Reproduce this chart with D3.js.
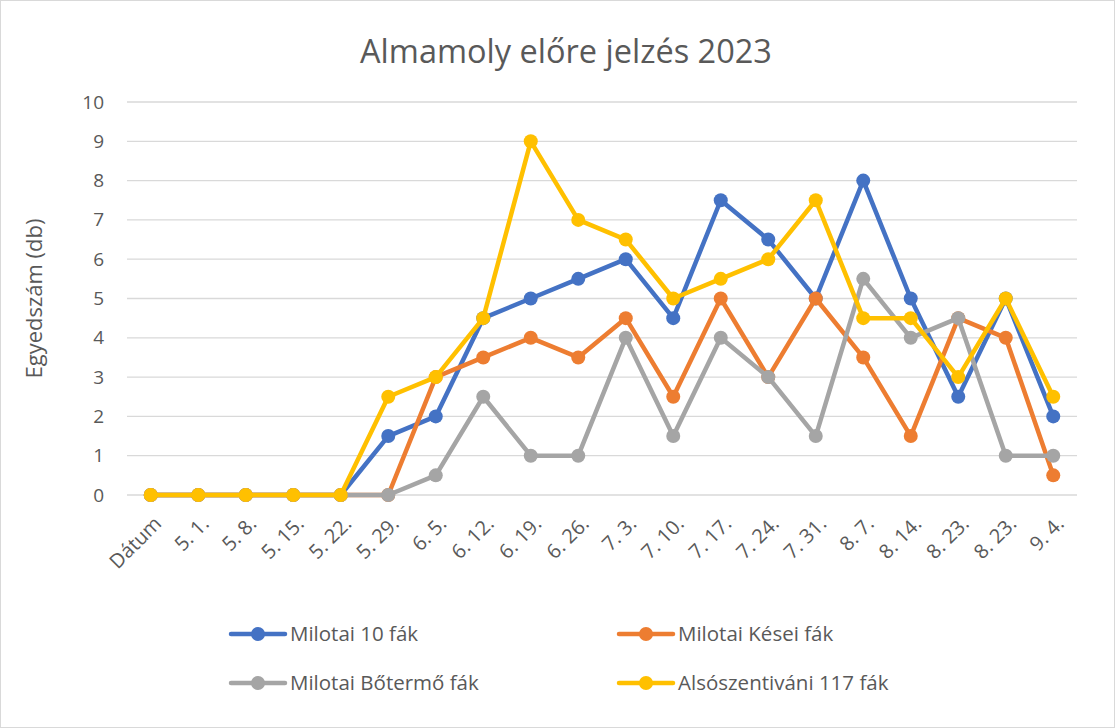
<!DOCTYPE html>
<html>
<head>
<meta charset="utf-8">
<script src="https://cdn.jsdelivr.net/npm/d3@7"></script>
<style>
  body { margin: 0; background: #fff; }
  svg text { font-family: "Open Sans", "Noto Sans", sans-serif; fill: #595959; }
</style>
</head>
<body>
<svg id="chart" width="1115" height="728"></svg>
<script>
const categories = ["Dátum", "5. 1.", "5. 8.", "5. 15.", "5. 22.", "5. 29.", "6. 5.", "6. 12.", "6. 19.", "6. 26.",
  "7. 3.", "7. 10.", "7. 17.", "7. 24.", "7. 31.", "8. 7.", "8. 14.", "8. 23.", "8. 23.", "9. 4."];

const milotai10 = [0, 0, 0, 0, 0, 1.5, 2, 4.5, 5, 5.5, 6, 4.5, 7.5, 6.5, 5, 8, 5, 2.5, 5, 2];
const milotaiKesei = [0, 0, 0, 0, 0, 0, 3, 3.5, 4, 3.5, 4.5, 2.5, 5, 3, 5, 3.5, 1.5, 4.5, 4, 0.5];
const milotaiBotermo = [0, 0, 0, 0, 0, 0, 0.5, 2.5, 1, 1, 4, 1.5, 4, 3, 1.5, 5.5, 4, 4.5, 1, 1];
const alsoszentivani = [0, 0, 0, 0, 0, 2.5, 3, 4.5, 9, 7, 6.5, 5, 5.5, 6, 7.5, 4.5, 4.5, 3, 5, 2.5];

const seriesNames = ["Milotai 10 fák", "Milotai Kései fák", "Milotai Bőtermő fák", "Alsószentiváni 117 fák"];
const seriesColors = ["#4472c4", "#ed7d31", "#a5a5a5", "#ffc000"];
const yTicks = [0, 1, 2, 3, 4, 5, 6, 7, 8, 9, 10];

const series = [milotai10, milotaiKesei, milotaiBotermo, alsoszentivani].map((v, i) => ({
  name: seriesNames[i], color: seriesColors[i], values: v
}));

const svg = d3.select("#chart");

// chart border
svg.append("rect")
  .attr("x", 0.5).attr("y", 0.5)
  .attr("width", 1114).attr("height", 727)
  .attr("fill", "#fff")
  .attr("stroke", "#d9d9d9");

const plotLeft = 127, plotRight = 1077, plotTop = 102, plotBottom = 495;

const x = d3.scaleBand()
  .domain(d3.range(categories.length))
  .range([plotLeft, plotRight]);
const cx = i => x(i) + x.bandwidth() / 2;

const y = d3.scaleLinear().domain([0, 10]).range([plotBottom, plotTop]);

// gridlines
svg.append("g")
  .selectAll("line")
  .data(yTicks)
  .enter().append("line")
    .attr("x1", plotLeft).attr("x2", plotRight)
    .attr("y1", d => y(d)).attr("y2", d => y(d))
    .attr("stroke", "#d9d9d9")
    .attr("stroke-width", 1.3);

// y axis labels
const yAxis = svg.append("g")
  .attr("transform", "translate(" + (plotLeft - 23) + ",0)")
  .call(d3.axisLeft(y).tickValues(yTicks).tickSize(0).tickPadding(0));
yAxis.select(".domain").remove();
yAxis.selectAll("text")
  .attr("font-size", 19)
  .attr("fill", "#595959")
  .attr("font-family", null);

// x axis labels
const xAxis = svg.append("g")
  .attr("transform", "translate(0," + plotBottom + ")")
  .call(d3.axisBottom(x).tickFormat(i => categories[i]).tickSize(0));
xAxis.select(".domain").remove();
xAxis.selectAll("text")
  .attr("font-size", 20)
  .attr("font-family", null)
  .attr("fill", "#595959")
  .attr("text-anchor", "end")
  .attr("y", 0)
  .attr("dy", "0.35em")
  .attr("transform", "translate(7,25) rotate(-45)");

// title
svg.append("text")
  .attr("x", 566).attr("y", 63)
  .attr("text-anchor", "middle")
  .attr("font-size", 32.5)
  .text("Almamoly előre jelzés 2023");

// y axis title
svg.append("text")
  .attr("transform", "translate(42," + ((plotTop + plotBottom) / 2) + ") rotate(-90)")
  .attr("text-anchor", "middle")
  .attr("font-size", 22)
  .text("Egyedszám (db)");

// lines
const line = d3.line()
  .x((d, i) => cx(i))
  .y(d => y(d));

const g = svg.append("g");
series.forEach(s => {
  g.append("path")
    .datum(s.values)
    .attr("fill", "none")
    .attr("stroke", s.color)
    .attr("stroke-width", 4.5)
    .attr("stroke-linejoin", "round")
    .attr("d", line);
  g.selectAll(null)
    .data(s.values)
    .enter().append("circle")
      .attr("cx", (d, i) => cx(i))
      .attr("cy", d => y(d))
      .attr("r", 7)
      .attr("fill", s.color);
});

// legend
const legendPos = [[231, 634], [619, 634], [231, 683], [619, 683]];
series.forEach((s, i) => {
  const [lx, ly] = legendPos[i];
  const lg = svg.append("g").attr("transform", "translate(" + lx + "," + ly + ")");
  lg.append("line")
    .attr("x1", 0).attr("x2", 54)
    .attr("stroke", s.color).attr("stroke-width", 4.5)
    .attr("stroke-linecap", "round");
  lg.append("circle").attr("cx", 27).attr("r", 7).attr("fill", s.color);
  lg.append("text")
    .attr("x", 59).attr("dy", "0.35em")
    .attr("font-size", 20.5)
    .text(s.name);
});
</script>
</body>
</html>
